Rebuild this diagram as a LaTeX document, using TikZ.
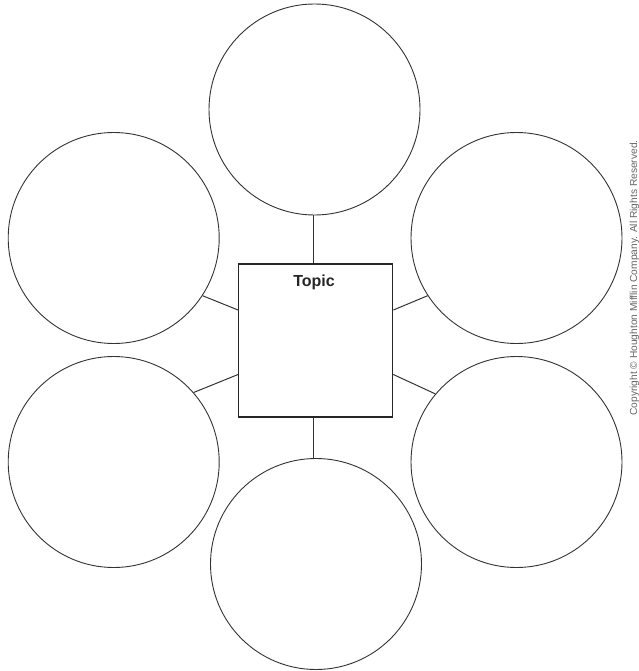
\documentclass[tikz,border=0pt]{standalone}
\usepackage{fontspec}
\setmainfont{Liberation Sans}
\begin{document}
\begin{tikzpicture}[x=1pt,y=-1pt,
  bubble/.style={circle,draw=black!80,line width=0.9pt,minimum size=211pt,inner sep=0pt},
  topicbox/.style={rectangle,draw=black!85,line width=1.3pt,minimum width=154pt,minimum height=153pt,inner sep=0pt},
  link/.style={draw=black!80,line width=1pt},
  toplabel/.style={font=\fontsize{16}{18}\selectfont\bfseries,text=black!85,anchor=base,inner sep=0pt},
  copy/.style={font=\fontsize{10.2}{12}\selectfont,text=black!60,rotate=90,inner sep=0pt}]
\useasboundingbox (0,0) rectangle (638,671);
\node[topicbox] (box) at (315.7,340.6) {};
\node[toplabel] (topic) at (314,286.7) {Topic};
\node[bubble] (top) at (314.5,109.5) {};
\node[bubble] (bot) at (316,564) {};
\node[bubble] (lu) at (113.7,238) {};
\node[bubble] (ll) at (113.7,462) {};
\node[bubble] (ru) at (516.5,238) {};
\node[bubble] (rl) at (516.5,462) {};
\coordinate (bl1) at (box.north west |- 0,310);
\coordinate (bl2) at (box.north west |- 0,374.5);
\coordinate (br1) at (box.north east |- 0,310);
\coordinate (br2) at (box.north east |- 0,374.5);
\coordinate (bt) at (box.north -| 313.6,0);
\coordinate (bb) at (box.south -| 313.6,0);
\path[link] (bt) -- (top.south -| bt);
\path[link] (bb) -- (bot.north -| bb);
\path[link] (bl1) -- (lu.-33);
\path[link] (bl2) -- (ll.41);
\path[link] (br1) -- (ru.-147);
\path[link] (br2) -- (rl.140);
\node[copy] (cr) at (634.5,278) {Copyright © Houghton Mifflin Company. All Rights Reserved.};
\end{tikzpicture}
\end{document}
